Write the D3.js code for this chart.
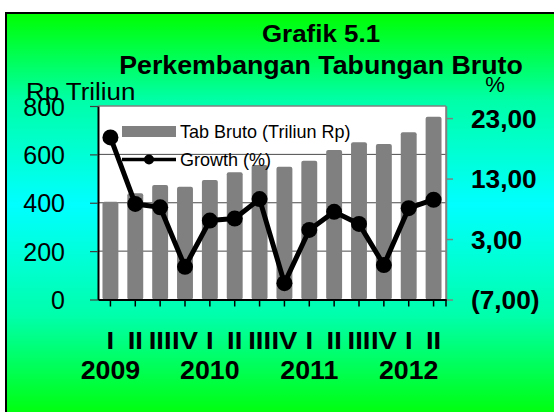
<!DOCTYPE html>
<html>
<head>
<meta charset="utf-8">
<script src="https://cdn.jsdelivr.net/npm/d3@7"></script>
<style>
  html, body { margin: 0; padding: 0; background: #ffffff; }
  svg { display: block; font-family: "Liberation Sans", Arial, sans-serif; }
</style>
</head>
<body>
<svg id="chart" width="554" height="412"></svg>
<script>
// ---- data ----
const quarters = ["I","II","III","IV","I","II","III","IV","I","II","III","IV","I","II"];
const years = ["2009","2010","2011","2012"];
const yearStartIndex = [0, 4, 8, 12];
const tabBruto = [404, 439, 473, 466, 494, 526, 556, 549, 574, 618, 650, 643, 691, 756];
const growth = [19.8, 8.8, 8.25, -1.6, 6.05, 6.4, 9.6, -4.3, 4.5, 7.5, 5.5, -1.3, 8.1, 9.5];
const leftTicks = [0, 200, 400, 600, 800];
const rightTicks = [-7, 3, 13, 23];
const titleLines = ["Grafik 5.1", "Perkembangan Tabungan Bruto"];
const seriesNames = ["Tab Bruto (Triliun Rp)", "Growth (%)"];

// ---- layout ----
const W = 554, H = 412;
const plot = { left: 98, right: 446, top: 106, bottom: 299.5 };

const svg = d3.select("#chart");

// horizontal stretch helper (reference text is slightly wide)
function stretch(sel, s) {
  sel.each(function () {
    const t = d3.select(this);
    const tx = +t.attr("x") || 0, ty = +t.attr("y") || 0;
    t.attr("x", 0).attr("y", 0).attr("transform", `translate(${tx},${ty}) scale(${s},1)`);
  });
}

// background gradient
const defs = svg.append("defs");
const grad = defs.append("linearGradient").attr("id", "bg")
  .attr("gradientUnits", "userSpaceOnUse")
  .attr("x1", 0).attr("y1", 13).attr("x2", 0).attr("y2", 412);
[[0, "#00ff00"], [0.22, "#00ffa8"], [0.48, "#00ffff"], [0.76, "#00ffaa"], [1, "#00ff10"]]
  .forEach(([o, c]) => grad.append("stop").attr("offset", o).attr("stop-color", c));

svg.append("rect").attr("x", 6).attr("y", 13).attr("width", W + 20).attr("height", H + 20)
  .attr("fill", "url(#bg)").attr("stroke", "#000").attr("stroke-width", 2);

// scales
const idx = d3.range(quarters.length);
const x = d3.scaleBand().domain(idx).range([plot.left, plot.right])
  .paddingInner(0.36).paddingOuter(0.18);
const yL = d3.scaleLinear().domain([0, 800]).range([plot.bottom, plot.top]);
const yR = d3.scaleLinear().domain([-7, 25]).range([plot.bottom, plot.top]);
const cx = i => x(i) + x.bandwidth() / 2;

// plot area
svg.append("rect").attr("x", plot.left).attr("y", plot.top)
  .attr("width", plot.right - plot.left).attr("height", plot.bottom - plot.top)
  .attr("fill", "#ffffff");

// gridlines
svg.append("g").selectAll("line").data(leftTicks.filter(v => v > 0 && v < 800)).join("line")
  .attr("x1", plot.left).attr("x2", plot.right)
  .attr("y1", d => yL(d)).attr("y2", d => yL(d))
  .attr("stroke", "#4a4a4a").attr("stroke-width", 1);

// bars
svg.append("g").selectAll("rect").data(tabBruto).join("rect")
  .attr("x", (d, i) => x(i)).attr("width", x.bandwidth())
  .attr("y", d => yL(d)).attr("height", d => yL(0) - yL(d))
  .attr("rx", 2).attr("fill", "#808080");

// plot borders
svg.append("line").attr("x1", plot.left).attr("x2", plot.right).attr("y1", plot.top).attr("y2", plot.top)
  .attr("stroke", "#808080").attr("stroke-width", 1.5);
svg.append("line").attr("x1", plot.right).attr("x2", plot.right).attr("y1", plot.top).attr("y2", plot.bottom)
  .attr("stroke", "#808080").attr("stroke-width", 1.5);

// left axis
const axL = svg.append("g").attr("transform", `translate(${plot.left},0)`)
  .call(d3.axisLeft(yL).tickValues(leftTicks).tickSize(8).tickPadding(25).tickSizeOuter(0));
axL.select(".domain").attr("stroke", "#000").attr("stroke-width", 2);
axL.selectAll(".tick line").attr("stroke", "#404040").attr("stroke-width", 1.2);
axL.selectAll(".tick text").attr("font-size", 25).attr("font-family", "Liberation Sans, Arial, sans-serif")
  .attr("fill", "#000").attr("dy", "0.36em");

// right axis
const axR = svg.append("g").attr("transform", `translate(${plot.right},0)`)
  .call(d3.axisRight(yR).tickValues(rightTicks).tickSize(7).tickPadding(18).tickSizeOuter(0)
    .tickFormat(v => {
      const s = Math.abs(v).toFixed(2).replace(".", ",");
      return v < 0 ? `(${s})` : s;
    }));
axR.select(".domain").attr("stroke", "#808080").attr("stroke-width", 1.5);
axR.selectAll(".tick line").attr("stroke", "#808080").attr("stroke-width", 1.5);
axR.selectAll(".tick text").attr("font-size", 25).attr("font-weight", "bold")
  .attr("font-family", "Liberation Sans, Arial, sans-serif").attr("fill", "#000").attr("dy", "0.36em");
stretch(axR.selectAll(".tick text"), 1.05);

// bottom axis
const axB = svg.append("g").attr("transform", `translate(0,${plot.bottom})`)
  .call(d3.axisBottom(x).tickSize(7).tickFormat("").tickSizeOuter(0));
axB.select(".domain").attr("stroke", "#000").attr("stroke-width", 2);
axB.selectAll(".tick line").attr("stroke", "#000").attr("stroke-width", 1.5);
axB.append("line").attr("x1", plot.right).attr("x2", plot.right).attr("y1", 0).attr("y2", 7)
  .attr("stroke", "#000").attr("stroke-width", 1.5);

// growth line
const line = d3.line().x((d, i) => cx(i)).y(d => yR(d));
svg.append("path").datum(growth).attr("d", line)
  .attr("fill", "none").attr("stroke", "#000").attr("stroke-width", 5).attr("stroke-linejoin", "round");
svg.append("g").selectAll("circle").data(growth).join("circle")
  .attr("cx", (d, i) => cx(i)).attr("cy", d => yR(d)).attr("r", 8).attr("fill", "#000");

// quarter labels
const ql = svg.append("g").selectAll("text").data(quarters).join("text")
  .attr("x", (d, i) => cx(i)).attr("y", 348.5).attr("text-anchor", "middle")
  .attr("font-size", 24.5).attr("font-weight", "bold").text(d => d);
stretch(ql, 1.12);

// year labels
const yl = svg.append("g").selectAll("text").data(years).join("text")
  .attr("x", (d, i) => cx(yearStartIndex[i])).attr("y", 379).attr("text-anchor", "middle")
  .attr("font-size", 25).attr("font-weight", "bold").text(d => d);
stretch(yl, 1.07);

// titles
const t1 = svg.append("text").attr("x", 321).attr("y", 42).attr("text-anchor", "middle")
  .attr("font-size", 24).attr("font-weight", "bold").text(titleLines[0]);
stretch(t1, 1.08);
const t2 = svg.append("text").attr("x", 321).attr("y", 73.5).attr("text-anchor", "middle")
  .attr("font-size", 25).attr("font-weight", "bold").text(titleLines[1]);
stretch(t2, 1.07);

// axis titles
const at = svg.append("text").attr("x", 26).attr("y", 99.5).attr("font-size", 24).text("Rp Triliun");
stretch(at, 1.08);
svg.append("text").attr("x", 495).attr("y", 92).attr("text-anchor", "middle").attr("font-size", 22).text("%");

// legend
const lg = svg.append("g");
lg.append("rect").attr("x", 122).attr("y", 126).attr("width", 54).attr("height", 11).attr("fill", "#808080");
const l1 = lg.append("text").attr("x", 180).attr("y", 137.5).attr("font-size", 17.5).text(seriesNames[0]);
stretch(l1, 1.03);
lg.append("line").attr("x1", 122).attr("x2", 176).attr("y1", 159.5).attr("y2", 159.5)
  .attr("stroke", "#000").attr("stroke-width", 3.5);
lg.append("circle").attr("cx", 149).attr("cy", 159.5).attr("r", 5).attr("fill", "#000");
const l2 = lg.append("text").attr("x", 180).attr("y", 166).attr("font-size", 17.5).text(seriesNames[1]);
stretch(l2, 1.03);
</script>
</body>
</html>
